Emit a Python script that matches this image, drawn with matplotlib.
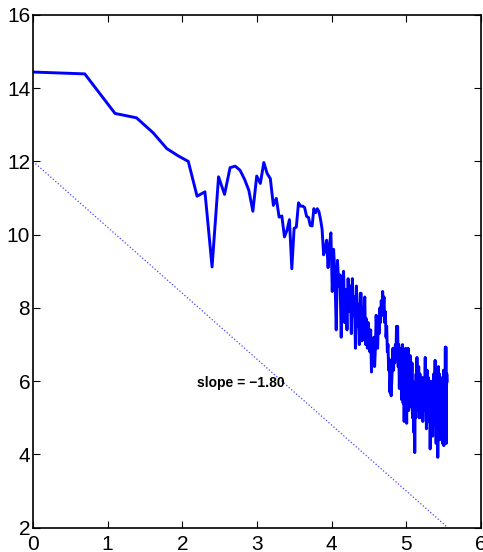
import numpy as np
import matplotlib
matplotlib.use('Agg')
import matplotlib.pyplot as plt

plt.rcParams['font.family'] = ['Liberation Sans Narrow', 'Liberation Sans', 'DejaVu Sans']

# frequency index 1..256, plotted on a natural-log axis
freq = np.arange(1, 257)

# log power, 10 values per row
log_power = [
    14.44, 14.39, 13.31, 13.19, 12.78, 12.35, 12.15, 12.00, 11.05, 11.17,
    9.12, 11.58, 11.10, 11.83, 11.87, 11.76, 11.51, 11.21, 10.64, 11.60,
    11.40, 11.97, 11.67, 11.53, 10.80, 10.99, 10.48, 10.51, 9.94, 10.12,
    10.41, 9.07, 10.17, 10.21, 10.87, 10.78, 10.78, 10.74, 10.50, 10.47,
    10.25, 10.24, 10.71, 10.60, 10.71, 10.63, 10.42, 10.15, 9.45, 9.60,
    9.85, 9.10, 9.70, 10.05, 8.45, 9.60, 8.90, 7.40, 9.30, 8.60,
    8.90, 7.20, 8.70, 9.00, 7.60, 8.50, 7.40, 8.80, 7.90, 8.60,
    7.30, 8.80, 7.80, 8.30, 6.90, 8.60, 7.50, 8.10, 7.00, 8.40,
    8.40, 7.10, 8.00, 7.50, 8.30, 7.00, 7.70, 6.90, 7.60, 7.30,
    6.80, 7.40, 6.25, 7.00, 6.50, 7.20, 6.40, 6.90, 7.80, 7.20,
    6.90, 7.70, 7.30, 8.00, 7.60, 8.20, 7.80, 8.45, 8.00, 8.30,
    7.60, 7.90, 7.20, 7.50, 6.80, 7.00, 6.30, 6.60, 5.70, 6.20,
    5.60, 6.00, 6.40, 6.90, 6.30, 6.80, 6.50, 7.00, 6.60, 7.50,
    6.60, 7.50, 6.40, 7.00, 5.80, 6.60, 6.00, 6.90, 5.50, 6.50,
    7.00, 5.40, 6.80, 4.90, 6.20, 5.30, 6.90, 5.60, 4.85, 6.30,
    5.50, 6.90, 5.20, 6.40, 5.80, 6.70, 5.30, 6.10, 5.60, 6.50,
    5.00, 6.00, 5.40, 4.60, 5.90, 4.05, 5.50, 5.00, 6.20, 5.30,
    6.65, 5.20, 6.10, 5.60, 6.40, 5.00, 5.80, 6.20, 5.40, 6.00,
    5.00, 5.90, 5.30, 6.10, 4.90, 5.60, 5.20, 6.00, 5.40, 5.80,
    6.65, 5.20, 6.00, 4.70, 5.70, 6.30, 5.00, 5.50, 6.10, 5.30,
    5.90, 4.90, 5.60, 4.15, 5.20, 6.00, 4.60, 5.50, 5.10, 5.80,
    4.50, 5.70, 5.00, 6.20, 5.30, 4.80, 5.90, 6.57, 5.20, 5.80,
    4.30, 5.40, 6.00, 4.60, 5.60, 3.92, 5.00, 6.40, 4.70, 5.50,
    6.20, 4.40, 5.80, 5.00, 6.10, 4.80, 5.40, 6.00, 4.50, 5.60,
    4.30, 5.90, 5.10, 6.30, 4.24, 5.50, 6.00, 4.40, 5.70, 6.93,
    5.20, 6.93, 4.30, 5.80, 6.20, 6.00,
]

# fitted line end points
fit_x = [0.0, 5.55]
fit_y = [12.0, 2.01]
slope_label = 'slope = \u22121.80'

xticks = [0, 1, 2, 3, 4, 5, 6]
yticks = [2, 4, 6, 8, 10, 12, 14, 16]

fig = plt.figure(figsize=(4.83, 5.52), dpi=100)
ax = fig.add_axes([0.0683, 0.044, 0.996 - 0.0683, 0.973 - 0.044])

ax.plot(np.log(freq), log_power, color='#0000ff', lw=2.1)
ax.plot(fit_x, fit_y, color='#4444ff', lw=0.9, ls=':')
ax.text(2.2, 5.95, slope_label, fontsize=10, fontweight='bold', va='center', ha='left')

ax.set_xlim(0, 6)
ax.set_ylim(2, 16)
ax.set_xticks(xticks)
ax.set_yticks(yticks)
ax.tick_params(direction='in', top=True, right=True, length=5, width=0.8,
               labelsize=15)
ax.tick_params(axis='x', pad=5)
ax.tick_params(axis='y', pad=2)
for s in ax.spines.values():
    s.set_linewidth(1.2)

fig.savefig('out.png', dpi=100)
